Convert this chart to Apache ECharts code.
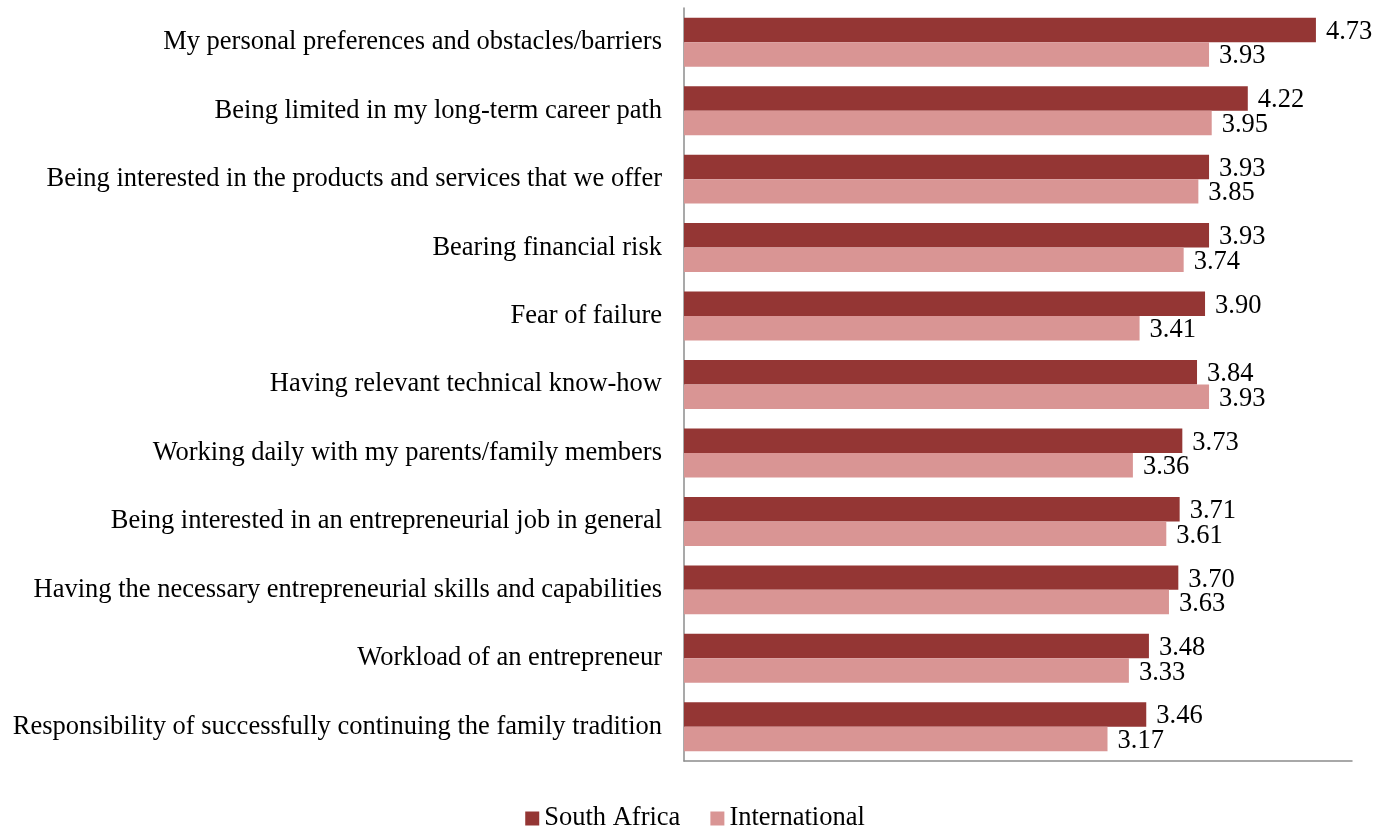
<!DOCTYPE html>
<html>
<head>
<meta charset="utf-8">
<script src="https://cdn.jsdelivr.net/npm/echarts@6/dist/echarts.min.js"></script>
<style>
  html, body { margin: 0; padding: 0; background: #ffffff; }
  #chart { width: 1390px; height: 827px; }
</style>
</head>
<body>
<div id="chart"></div>
<script>
// Categories listed top to bottom
const categories = [
  "My personal preferences and obstacles/barriers",
  "Being limited in my long-term career path",
  "Being interested in the products and services that we offer",
  "Bearing financial risk",
  "Fear of failure",
  "Having relevant technical know-how",
  "Working daily with my parents/family members",
  "Being interested in an entrepreneurial job in general",
  "Having the necessary entrepreneurial skills and capabilities",
  "Workload of an entrepreneur",
  "Responsibility of successfully continuing the family tradition"
];
const southAfrica = [4.73, 4.22, 3.93, 3.93, 3.90, 3.84, 3.73, 3.71, 3.70, 3.48, 3.46];
const international = [3.93, 3.95, 3.85, 3.74, 3.41, 3.93, 3.36, 3.61, 3.63, 3.33, 3.17];

const FONT = '"Liberation Serif", "Times New Roman", serif';

const chart = echarts.init(document.getElementById('chart'));
const labelStyle = {
  show: true,
  position: 'right',
  distance: 10,
  offset: [0, 2],
  color: '#000',
  fontFamily: FONT,
  fontSize: 26.5,
  formatter: p => p.value.toFixed(2)
};
chart.setOption({
  animation: false,
  grid: { left: 684, right: 38, top: 8, bottom: 66, containLabel: false },
  legend: {
    top: 800,
    left: 'center',
    itemWidth: 14,
    itemHeight: 14,
    itemGap: 30,
    icon: 'rect',
    textStyle: { fontFamily: FONT, fontSize: 26.5, color: '#000' },
    data: ['South Africa', 'International']
  },
  xAxis: {
    type: 'value',
    min: 0,
    max: 5,
    axisLine: { show: true, lineStyle: { color: '#8c8c8c', width: 1.5 } },
    axisTick: { show: false },
    axisLabel: { show: false },
    splitLine: { show: false }
  },
  yAxis: {
    type: 'category',
    inverse: true,
    data: categories,
    axisLine: { show: true, lineStyle: { color: '#8c8c8c', width: 1.5 } },
    axisTick: { show: false },
    axisLabel: { margin: 22, color: '#000', fontFamily: FONT, fontSize: 26.5 }
  },
  series: [
    {
      name: 'South Africa',
      type: 'bar',
      data: southAfrica,
      barGap: '0%',
      barCategoryGap: '28.5%',
      itemStyle: { color: '#943634' },
      label: labelStyle
    },
    {
      name: 'International',
      type: 'bar',
      data: international,
      barGap: '0%',
      barCategoryGap: '28.5%',
      itemStyle: { color: '#D99594' },
      label: labelStyle
    }
  ]
});
</script>
</body>
</html>
